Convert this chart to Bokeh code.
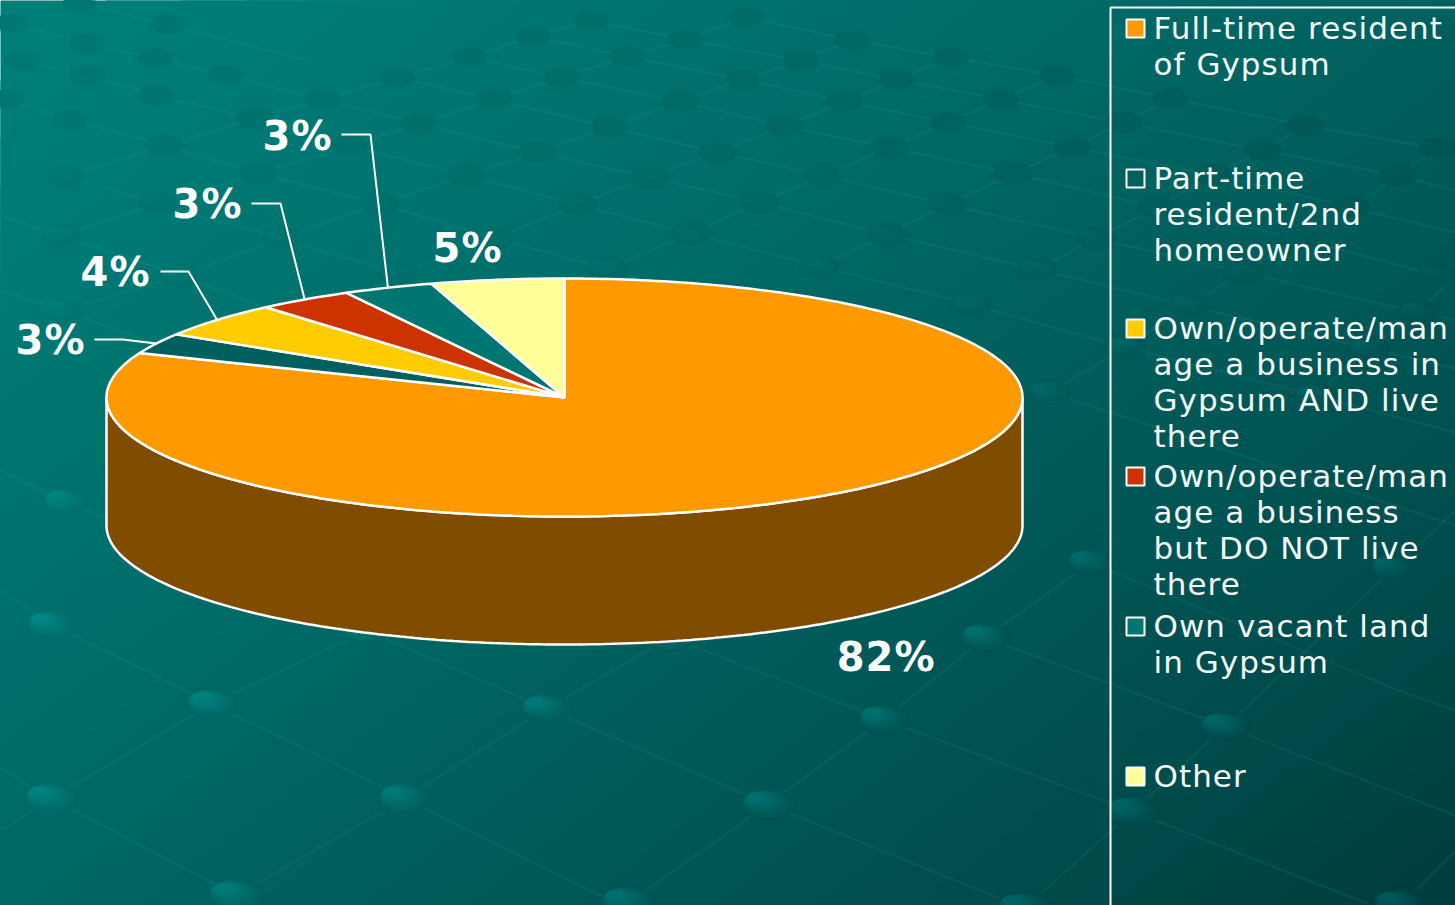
import numpy as np
from bokeh.plotting import figure
from bokeh.models import Range1d
from bokeh.core.properties import value
from bokeh.embed import file_html
from bokeh.resources import INLINE

# ---- chart data (slices clockwise from 12 o'clock)
categories = ["Full-time resident of Gypsum", "Part-time resident/2nd homeowner",
              "Own/operate/manage a business in Gypsum AND live there",
              "Own/operate/manage a business but DO NOT live there",
              "Own vacant land in Gypsum", "Other"]
slice_share = [81.1, 2.8, 4.8, 3.4, 3.2, 4.7]
slice_labels = ["82%", "3%", "4%", "3%", "3%", "5%"]
slice_colors = ["#FF9900", "#006060", "#FFCC00", "#CC3300", "#007672", "#FFFF99"]
legend_lines = [["Full-time resident", "of Gypsum"],
                ["Part-time", "resident/2nd", "homeowner"],
                ["Own/operate/man", "age a business in", "Gypsum AND live", "there"],
                ["Own/operate/man", "age a business", "but DO NOT live", "there"],
                ["Own vacant land", "in Gypsum"],
                ["Other"]]

# ---- layout (reference pixel coordinates)
W, H = 1455, 905
CX, CY, RX, RY, DEPTH = 564, 397, 458, 119, 128
legend_y = [27, 177, 327, 475, 625, 775]
swatch_y = [28, 178, 328, 476, 626, 776]
LINE_H = 36
label_xy = [(884, 656), (49, 339), (114, 271), (206, 203), (296, 135), (466, 247)]
leaders = {1: [(94, 339), (122, 339)], 2: [(160, 271), (188, 271)],
           3: [(251, 203), (280, 203)], 4: [(341, 134), (370, 134)]}

# ---- background decoration: lines of a receding grid, with a dot at each node
rows = [
    [(79,3),(167,24),(307,60)],
    [(10,23),(86,43),(155,58),(225,75),(322,99),(419,123),(537,152),(649,177),(759,202),(886,234),(1037,269),(1188,305),(1368,348),(1455,368)],
    [(21,60),(87,75),(156,95),(255,118),(349,145),(466,175),(577,204),(690,233),(819,266),(971,304),(1125,347),(1315,395),(1455,432)],
    [(5,99),(70,120),(165,145),(258,173),(379,203),(494,238),(607,268),(760,320)],
    [(65,176),(158,203),(281,238),(398,273),(525,320)],
    [(0,215),(60,235),(180,275),(300,320)],
    [(0,290),(63,310),(200,360)],
    [(397,77),(493,99),(609,127),(717,152),(823,175),(947,204),(1095,238),(1243,272),(1418,312),(1455,320)],
    [(470,57),(561,77),(680,101),(784,126),(889,147),(1013,173),(1157,207),(1298,238),(1437,275)],
    [(533,36),(627,56),(743,79),(844,101),(948,122),(1072,147),(1213,174),(1350,207),(1455,232)],
    [(591,20),(685,39),(800,60),(897,79),(1000,99),(1123,122),(1262,150),(1398,175),(1455,190)],
    [(746,17),(852,40),(951,57),(1057,75),(1170,98),(1305,125),(1437,148)],
    [(1049,392),(1455,525)],
    [(1090,562),(1393,688),(1455,710)],
    [(0,470),(65,501),(366,630),(546,708),(768,804),(1024,908)],
    [(0,590),(51,624),(212,703),(404,798),(620,905)],
    [(0,768),(51,798),(236,895)],
    [(670,637),(883,719),(1132,811),(1367,903)],
    [(985,637),(1225,726),(1455,815)],
]
cols = [
    [(63,310),(180,275),(281,238),(379,203),(466,175),(537,152),(609,127),(680,101),(743,79),(800,60),(852,40)],
    [(398,273),(494,238),(577,204),(649,177),(717,152),(784,126),(844,101),(897,79),(951,57)],
    [(607,268),(690,233),(759,202),(823,175),(889,147),(948,122),(1000,99),(1057,75)],
    [(819,266),(886,234),(947,204),(1013,173),(1072,147),(1123,122),(1170,98)],
    [(1037,269),(1095,238),(1157,207),(1213,174),(1262,150),(1305,125)],
    [(1049,392),(1125,347),(1188,305),(1243,272),(1298,238),(1350,207),(1398,175),(1437,148)],
    [(1315,395),(1368,348),(1418,312),(1455,275)],
    [(61,235),(158,203),(258,173),(349,145),(419,123),(493,99),(561,77),(627,56),(685,39),(746,17)],
    [(65,176),(165,145),(254,118),(322,99),(397,77),(470,57),(533,36),(591,20)],
    [(0,830),(51,798),(212,703),(366,630)],
    [(236,895),(404,798),(546,708),(670,637)],
    [(628,902),(768,804),(883,719),(985,637),(1090,562)],
    [(1024,908),(1132,811),(1225,726),(1393,568),(1455,510)],
    [(1400,905),(1455,850)],
]
dots = sorted({pt for seq in rows + cols for pt in seq if 0 < pt[0] < 1450 and pt[1] < 915}
              - {(307,60),(525,320),(300,320),(760,320),(200,360),(0,215),(0,290),(0,470),(0,590),(0,768),(0,830),
                 (1393,688),(620,905),(1367,903)})


def bg_rgb(x, y):
    """Background gradient, teal top-left to dark bottom-right."""
    t = np.clip(x / W * 0.55 + y / H * 0.45, 0, 1) ** 1.3
    return 126 - 66 * t, 120 - 58 * t


# ---- figure: data units are the reference's pixels
p = figure(width=W, height=H, x_range=Range1d(0, W), y_range=Range1d(H, 0),
           x_axis_type=None, y_axis_type=None, toolbar_location=None, output_backend="svg",
           min_border=0, outline_line_color=None)
p.grid.visible = False
p.styles = {"letter-spacing": "1.05px"}

# gradient as stacked half-planes, one per colour level
levels = np.linspace(0, 1, 67)
far = 4000.0
nv = np.array([0.55 / W, 0.45 / H])
nu = nv / np.linalg.norm(nv)
du = np.array([-nu[1], nu[0]])
bxs, bys, bcol = [], [], []
for lv in levels:
    s = lv ** (1 / 1.3)
    p0 = nv * s / (nv @ nv)
    a, b, c, d = p0 + du * far, p0 - du * far, p0 - du * far + nu * far, p0 + du * far + nu * far
    bxs.append([a[0], b[0], c[0], d[0]])
    bys.append([a[1], b[1], c[1], d[1]])
    bcol.append(f"#00{int(round(126 - 66 * lv)):02x}{int(round(120 - 58 * lv)):02x}")
p.patches(bxs, bys, fill_color=bcol, line_color=None)

for seg in rows + cols:
    sx, sy = zip(*seg)
    p.line(list(sx), list(sy), line_color="#30B0A8", line_alpha=0.12, line_width=2)

# dots: shaded from lower right to upper left with nested ellipses
dx = np.array([d[0] for d in dots], float)
dy = np.array([d[1] for d in dots], float)
dw = 34 + 24 * np.clip(dy / 905, 0, 1)
dh = dw * 0.56
dg, db = bg_rgb(dx, dy)
lift = np.clip(-5 + (dy - 120) * 0.06, -5, 26)
base = -5 + 4 * np.clip(dy / 905, 0, 1)
for f in np.linspace(0, 1, 10):
    s = 1 - 0.7 * f
    g = dg + base + (lift - base) * f
    b = db + base + (lift - base) * f
    cc = [f"#00{int(u):02x}{int(v):02x}" for u, v in zip(g, b)]
    p.ellipse(dx - dw * (1 - s) * 0.33, dy - dh * (1 - s) * 0.33, width=dw * s, height=dh * s,
              fill_color=cc, line_color=None)

# ---- 3-D pie
rim = lambda th: (CX + RX * np.sin(th), CY - RY * np.cos(th))
arc = np.linspace(np.pi / 2, 3 * np.pi / 2, 181)
wx, wy = rim(arc)
p.patch(np.r_[wx, wx[::-1]], np.r_[wy + DEPTH, wy[::-1]], fill_color="#804C00", line_color="white", line_width=2.5)

edges = np.r_[0, np.cumsum(slice_share)] / np.sum(slice_share) * 2 * np.pi
xs, ys = [], []
for a, b in zip(edges[:-1], edges[1:]):
    th = np.linspace(a, b, max(int((b - a) * 60), 6))
    rx, ry = rim(th)
    xs.append(np.r_[CX, rx].tolist())
    ys.append(np.r_[CY, ry].tolist())
p.patches(xs, ys, fill_color=slice_colors, line_color="white", line_width=2.5)

# ---- leaders, from the elbow to the slice's rim
for i, pts in leaders.items():
    ex, ey = rim((edges[i] + edges[i + 1]) / 2)
    p.line([pts[0][0], pts[1][0], ex], [pts[0][1], pts[1][1], ey], line_color="white", line_width=2)

p.text([q[0] for q in label_xy], [q[1] for q in label_xy], text=slice_labels, text_color="white",
       text_font=value("DejaVu Sans"), text_font_style="bold", text_font_size="40px",
       text_align="center", text_baseline="middle")

# ---- legend
p.line([W, 1110, 1110], [7, 7, H], line_color="white", line_width=2)
p.rect([1135] * 6, swatch_y, width=18, height=18, fill_color=slice_colors, line_color="white", line_width=2)
tx, ty, tt = [], [], []
for y0, lines in zip(legend_y, legend_lines):
    for k, s in enumerate(lines):
        tx.append(1153)
        ty.append(y0 + k * LINE_H)
        tt.append(s)
p.text(tx, ty, text=tt, text_color="#F4FAF8", text_font=value("DejaVu Sans"), text_font_size="31px",
       text_align="left", text_baseline="middle")

open("out.html", "w").write(file_html(p, INLINE))
